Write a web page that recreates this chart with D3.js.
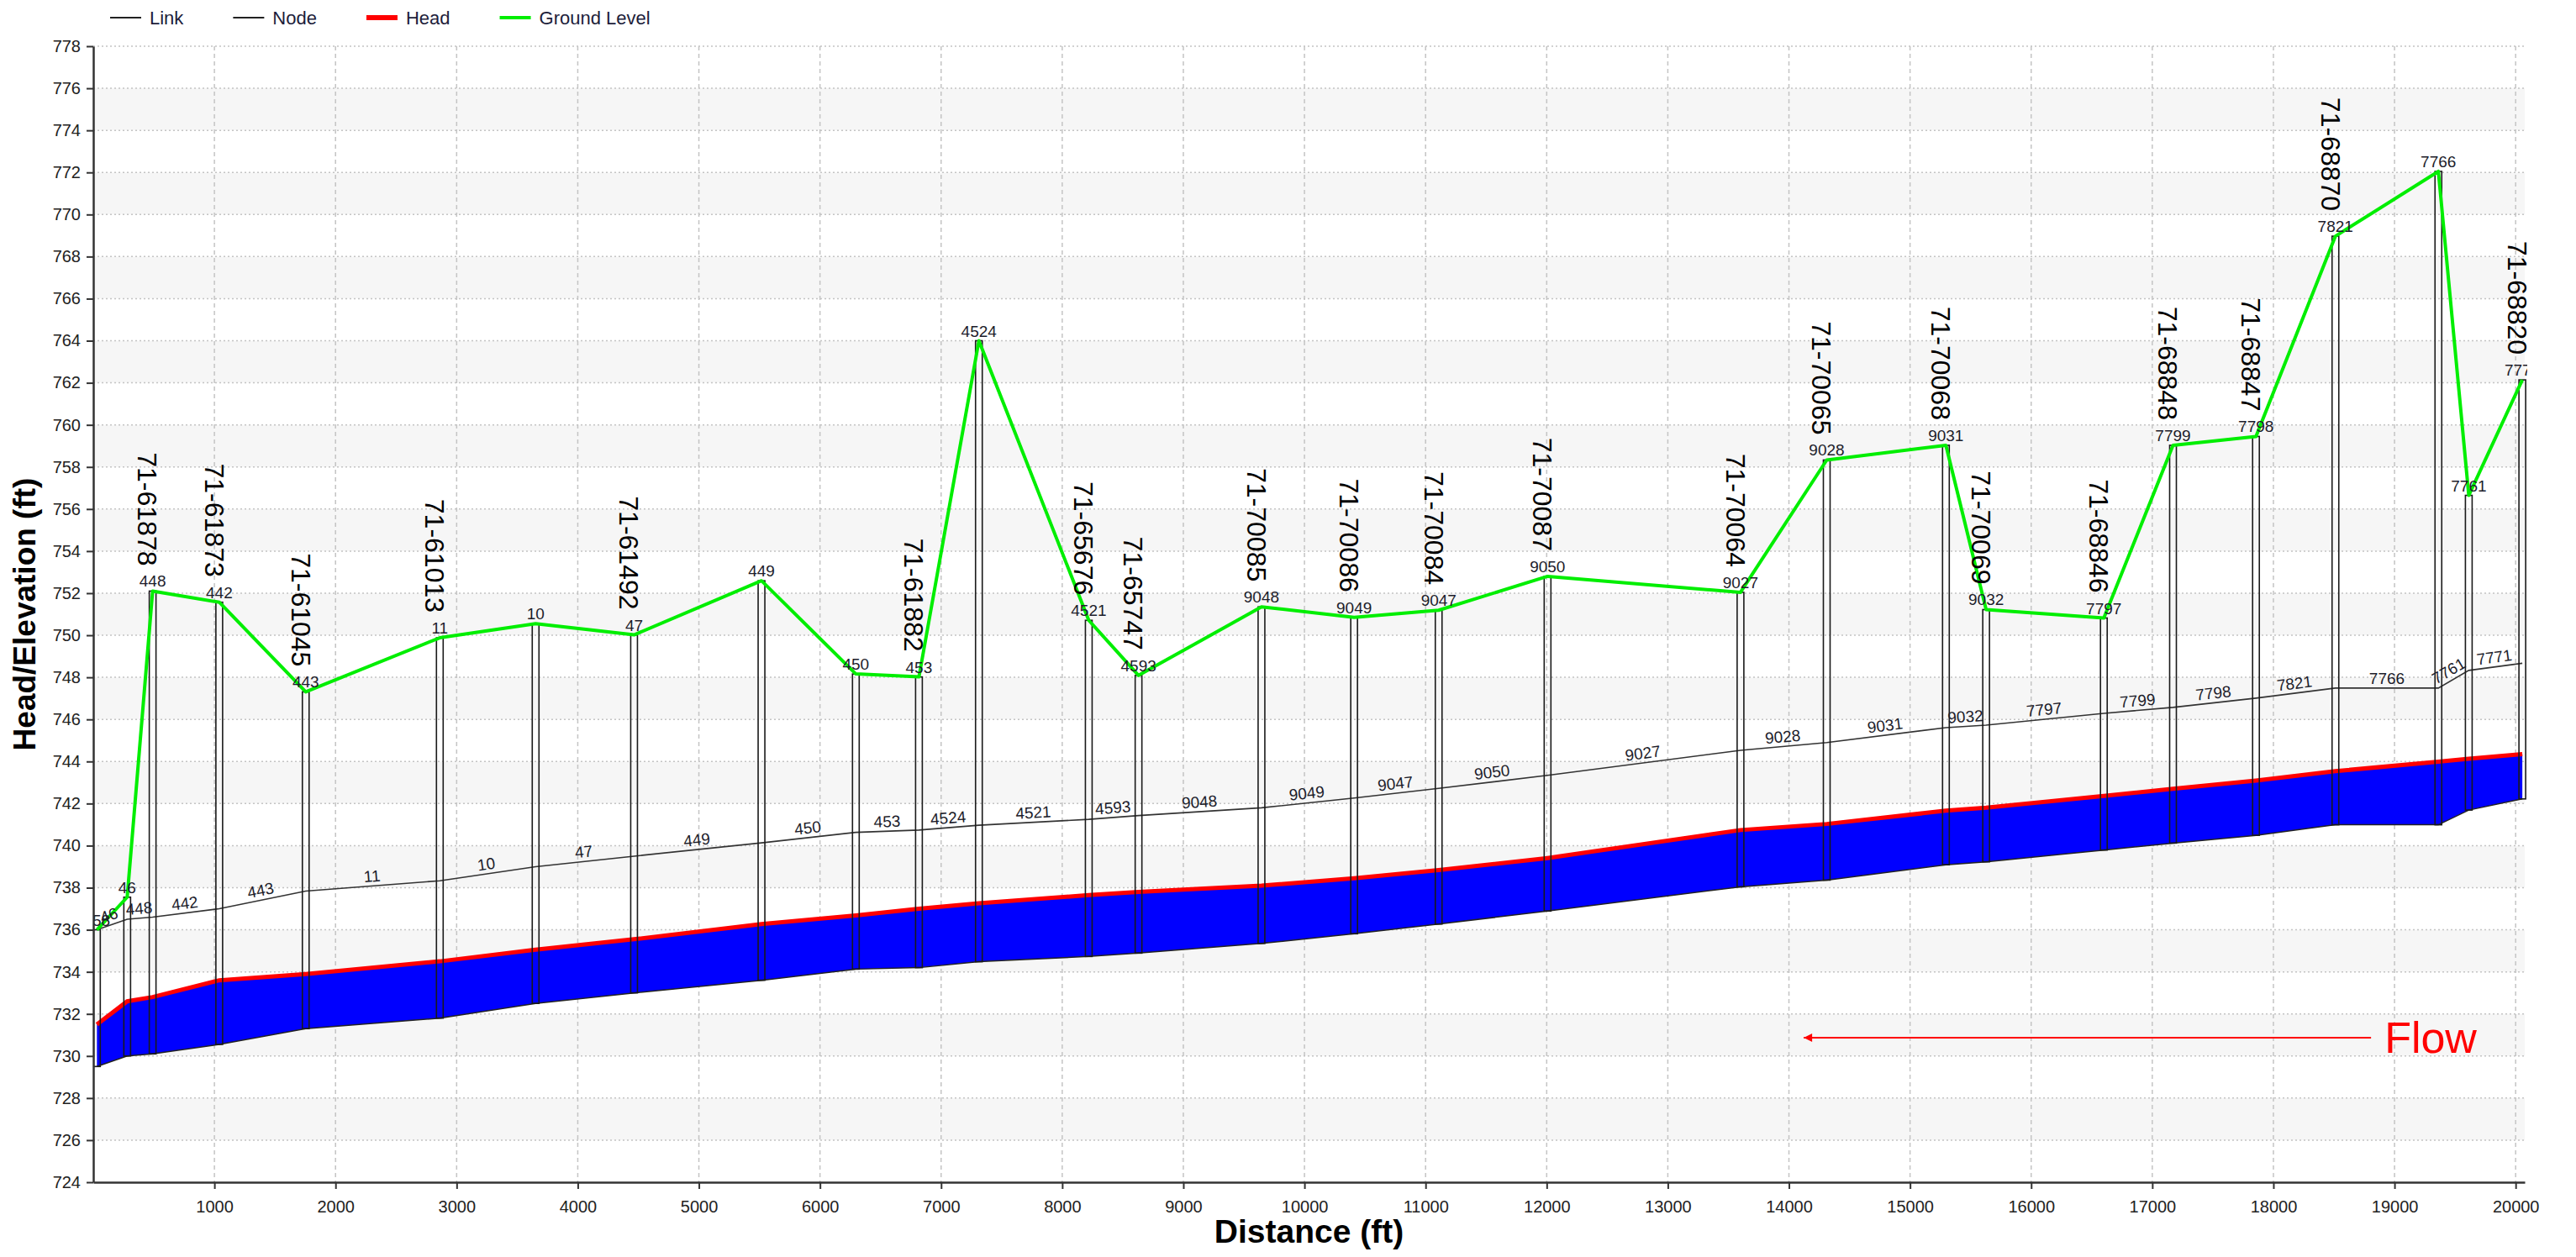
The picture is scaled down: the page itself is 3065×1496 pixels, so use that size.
<!DOCTYPE html>
<html>
<head>
<meta charset="utf-8">
<script src="https://cdn.jsdelivr.net/npm/d3@7"></script>
<style>
  body { margin: 0; background: #fff; }
  text { font-family: "Liberation Sans", Arial, sans-serif; }
</style>
</head>
<body>
<div id="profile"></div>
<script>
// node ids, read left to right along the profile
var nodeIds = ["258", "46", "448", "442", "443", "11", "10", "47", "449", "450", "453", "4524", "4521", "4593",
    "9048", "9049", "9047", "9050", "9027", "9028", "9031", "9032", "7797", "7799", "7798", "7821", "7766", "7761", "7771"];
// distance (ft)
var nodeDistance = [30, 280, 490, 1040, 1754, 2861, 3652, 4465, 5517, 6296, 6817, 7312, 8219, 8630,
    9645, 10410, 11108, 12007, 13600, 14312, 15296, 15628, 16600, 17171, 17856, 18512, 19362, 19613, 20055];
// ground level at each node (ft)
var groundLevel = [736.0, 737.55, 752.1, 751.57, 747.31, 749.88, 750.55, 750.02, 752.59, 748.16, 748.02, 764.0, 750.71, 748.09,
    751.35, 750.85, 751.19, 752.8, 752.04, 758.33, 759.03, 751.22, 750.82, 759.03, 759.45, 768.97, 772.05, 756.65, 762.14];
// thin link line
var linkLevel = [736.0, 736.5, 736.6, 737.0, 737.84, 738.33, 739.0, 739.5, 740.13, 740.63, 740.74, 740.97, 741.25, 741.43,
    741.8, 742.26, 742.72, 743.34, 744.53, 744.9, 745.61, 745.73, 746.29, 746.57, 747.01, 747.49, 747.49, 748.33, 748.67];
// head
var headLevel = [731.5, 732.6, 732.8, 733.6, 733.9, 734.5, 735.05, 735.55, 736.27, 736.68, 737.0, 737.26, 737.65, 737.8,
    738.1, 738.45, 738.84, 739.41, 740.74, 741.03, 741.66, 741.8, 742.36, 742.7, 743.09, 743.54, 743.99, 744.13, 744.35];
// invert (bottom of the blue)
var invertLevel = [729.5, 730.0, 730.1, 730.55, 731.3, 731.8, 732.5, 733.0, 733.6, 734.13, 734.2, 734.48, 734.73, 734.89,
    735.35, 735.81, 736.27, 736.89, 738.04, 738.36, 739.09, 739.23, 739.79, 740.12, 740.49, 740.99, 740.99, 741.69, 742.22];

// pipe names written vertically, and the node they stand on
var pipeNames = ["71-61878", "71-61873", "71-61045", "71-61013", "71-61492", "71-61882", "71-65676", "71-65747",
    "71-70085", "71-70086", "71-70084", "71-70087", "71-70064", "71-70065", "71-70068", "71-70069",
    "71-68846", "71-68848", "71-68847", "71-68870", "71-68820"];
var pipeAtNode = ["448", "442", "443", "11", "47", "453", "4521", "4593",
    "9048", "9049", "9047", "9050", "9027", "9028", "9031", "9032",
    "7797", "7799", "7798", "7821", "7771"];

var xTicks = d3.range(1000, 20001, 1000);
var yTicks = d3.range(724, 779, 2);

var legendNames = ["Link", "Node", "Head", "Ground Level"];
var legendColors = ["#222", "#222", "#ff0000", "#00ee00"];
var legendWidths = [2, 2, 6, 4];

// flow arrow (distance from, distance to, elevation)
var flowFrom = 18806, flowTo = 14122, flowLevel = 730.87;

var svgWidth = 3065;
var svgHeight = 1496;
var margin = { top: 55, right: 61, bottom: 89, left: 111 };
var width = svgWidth - margin.left - margin.right;
var height = svgHeight - margin.top - margin.bottom;

var root = d3.select("#profile")
    .append("svg")
    .attr("width", svgWidth)
    .attr("height", svgHeight);

var svg = root.append("g")
    .attr("transform", `translate(${margin.left}, ${margin.top})`);

var x = d3.scaleLinear().domain([0, 20075]).range([0, width]);
var y = d3.scaleLinear().domain([724, 778]).range([height, 0]);

var nodes = nodeIds.map((id, i) => ({
    id: id, dist: nodeDistance[i], ground: groundLevel[i],
    link: linkLevel[i], head: headLevel[i], invert: invertLevel[i]
}));

// background bands
svg.selectAll(".band")
    .data(yTicks.filter(v => (v - 2) % 4 == 0 && v < 778))
    .enter().append("rect")
    .attr("x", 0).attr("width", width)
    .attr("y", d => y(d + 2))
    .attr("height", d => y(d) - y(d + 2))
    .attr("fill", "#f6f6f6");

// grid
svg.selectAll(".hgrid")
    .data(yTicks.slice(1))
    .enter().append("line")
    .attr("x1", 0).attr("x2", width)
    .attr("y1", d => y(d)).attr("y2", d => y(d))
    .attr("stroke", "#c4c4c4").attr("stroke-width", 1.5)
    .attr("stroke-dasharray", "2,3");

svg.selectAll(".vgrid")
    .data(xTicks)
    .enter().append("line")
    .attr("x1", d => x(d)).attr("x2", d => x(d))
    .attr("y1", 0).attr("y2", height)
    .attr("stroke", "#c4c4c4").attr("stroke-width", 1.5)
    .attr("stroke-dasharray", "5,4");

root.append("clipPath").attr("id", "plotClip")
    .append("rect").attr("x", 0).attr("y", -200).attr("width", width + 3).attr("height", height + 200);

var plot = svg.append("g").attr("clip-path", "url(#plotClip)");

// pipe fill and head
plot.append("path")
    .datum(nodes)
    .attr("fill", "#0000ff")
    .attr("d", d3.area().x(d => x(d.dist)).y0(d => y(d.invert)).y1(d => y(d.head)));

plot.append("path")
    .datum(nodes)
    .attr("fill", "none").attr("stroke", "#222").attr("stroke-width", 1.5)
    .attr("d", d3.line().x(d => x(d.dist)).y(d => y(d.invert)));

plot.append("path")
    .datum(nodes)
    .attr("fill", "none").attr("stroke", "#ff0000").attr("stroke-width", 5)
    .attr("d", d3.line().x(d => x(d.dist)).y(d => y(d.head)));

// link line
plot.append("path")
    .datum(nodes)
    .attr("fill", "none").attr("stroke", "#333").attr("stroke-width", 1.6)
    .attr("d", d3.line().x(d => x(d.dist)).y(d => y(d.link)));

// node columns
plot.selectAll(".node")
    .data(nodes)
    .enter().append("rect")
    .attr("x", d => x(d.dist) - 4)
    .attr("width", 8)
    .attr("y", d => y(d.ground))
    .attr("height", d => y(d.invert) - y(d.ground))
    .attr("fill", "none")
    .attr("stroke", "#1a1a1a")
    .attr("stroke-width", 1.6);

// ground level
plot.append("path")
    .datum(nodes)
    .attr("fill", "none").attr("stroke", "#00ee00").attr("stroke-width", 4)
    .attr("stroke-linejoin", "round")
    .attr("d", d3.line().x(d => x(d.dist)).y(d => y(d.ground)));

// node labels above ground
plot.selectAll(".nodeLabel")
    .data(nodes)
    .enter().append("text")
    .attr("x", d => x(d.dist))
    .attr("y", d => y(d.ground) - 5)
    .attr("text-anchor", "middle")
    .attr("font-size", "19px")
    .attr("fill", "#1d1d2b")
    .text(d => d.id);

// labels along the link line, one per segment
plot.selectAll(".linkLabel")
    .data(nodes.slice(1))
    .enter().append("text")
    .attr("transform", (d, i) => {
        var a = nodes[i];
        var x1 = x(a.dist), y1 = y(a.link), x2 = x(d.dist), y2 = y(d.link);
        var ang = Math.atan2(y2 - y1, x2 - x1) * 180 / Math.PI;
        return `translate(${(x1 + x2) / 2}, ${(y1 + y2) / 2}) rotate(${ang})`;
    })
    .attr("y", -5)
    .attr("text-anchor", "middle")
    .attr("font-size", "19px")
    .attr("fill", "#1d1d2b")
    .text(d => d.id);

// vertical pipe names
plot.selectAll(".pipeLabel")
    .data(pipeNames)
    .enter().append("text")
    .attr("transform", (d, i) => {
        var n = nodes[nodeIds.indexOf(pipeAtNode[i])];
        return `translate(${x(n.dist) - 6}, ${y(n.ground) - 30}) rotate(90)`;
    })
    .attr("dy", "0.35em")
    .attr("text-anchor", "end")
    .attr("font-size", "32px")
    .attr("fill", "#000")
    .text(d => d);

// flow arrow
root.append("defs").append("marker")
    .attr("id", "arrow")
    .attr("viewBox", "0 0 10 10")
    .attr("refX", 10).attr("refY", 5)
    .attr("markerWidth", 7).attr("markerHeight", 5)
    .attr("orient", "auto")
    .append("path").attr("d", "M10,5 L0,0 L0,10 Z").attr("fill", "#ff0000");

svg.append("line")
    .attr("x1", x(flowFrom)).attr("x2", x(flowTo))
    .attr("y1", y(flowLevel)).attr("y2", y(flowLevel))
    .attr("stroke", "#ff0000").attr("stroke-width", 2)
    .attr("marker-end", "url(#arrow)");

svg.append("text")
    .attr("x", x(flowFrom) + 16)
    .attr("y", y(flowLevel))
    .attr("dy", "0.35em")
    .attr("font-size", "52px")
    .attr("fill", "#ff0000")
    .text("Flow");

// axes
var xAxisG = svg.append("g")
    .attr("transform", `translate(0, ${height})`)
    .call(d3.axisBottom(x).tickValues(xTicks).tickSize(8).tickSizeOuter(0).tickPadding(14).tickFormat(d3.format("d")));

var yAxisG = svg.append("g")
    .call(d3.axisLeft(y).tickValues(yTicks).tickSize(8).tickSizeOuter(0).tickPadding(7).tickFormat(d3.format("d")));

[xAxisG, yAxisG].forEach(g => {
    g.select(".domain").attr("stroke", "#333").attr("stroke-width", 2.5);
    g.selectAll(".tick line").attr("stroke", "#333").attr("stroke-width", 2);
    g.selectAll(".tick text").attr("font-size", "20px").attr("fill", "#222");
});

svg.append("text")
    .attr("x", width / 2)
    .attr("y", height + 72)
    .attr("text-anchor", "middle")
    .attr("font-size", "39px")
    .attr("font-weight", "bold")
    .text("Distance (ft)");

svg.append("text")
    .attr("transform", `translate(${42 - margin.left}, ${height / 2}) rotate(-90)`)
    .attr("text-anchor", "middle")
    .attr("font-size", "37px")
    .attr("font-weight", "bold")
    .text("Head/Elevation (ft)");

// legend
var legend = root.append("g").attr("transform", "translate(131, 21)");
var lx = 0;
legendNames.forEach((name, i) => {
    legend.append("line")
        .attr("x1", lx).attr("x2", lx + 37)
        .attr("y1", 0).attr("y2", 0)
        .attr("stroke", legendColors[i])
        .attr("stroke-width", legendWidths[i]);
    var t = legend.append("text")
        .attr("x", lx + 47)
        .attr("dy", "0.35em")
        .attr("font-size", "22px")
        .attr("fill", "#1d1d3a")
        .text(name);
    lx += 47 + t.node().getComputedTextLength() + 59;
});
</script>
</body>
</html>
